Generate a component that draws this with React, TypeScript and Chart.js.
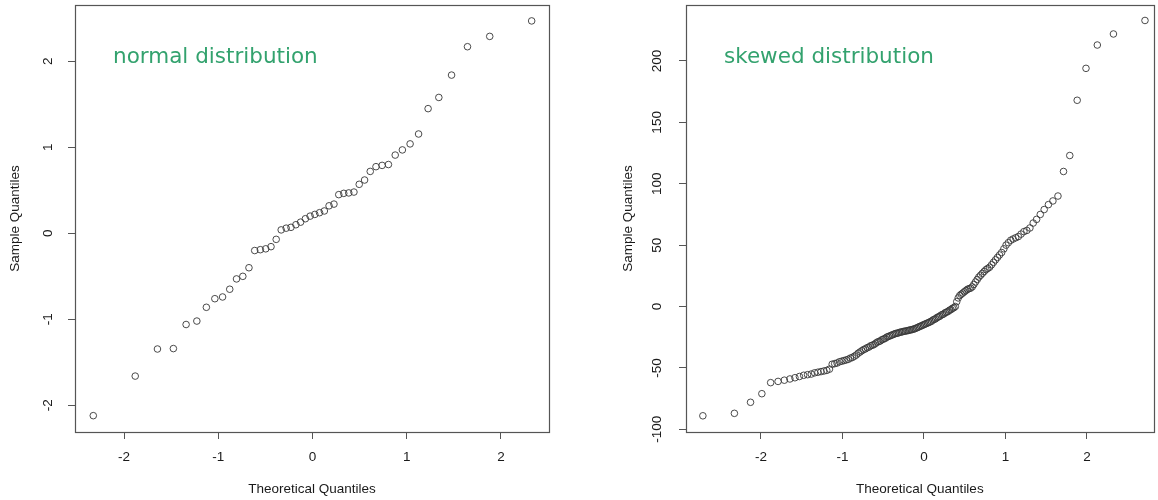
import React, { useEffect, useRef } from "react";
import { Chart, registerables } from "chart.js";

Chart.register(...registerables);

// ---------- DATA ----------
const leftTitle = "normal distribution";
const rightTitle = "skewed distribution";
const xAxisTitle = "Theoretical Quantiles";
const yAxisTitle = "Sample Quantiles";

const leftTheoretical = [
  -2.326, -1.881, -1.645, -1.476, -1.341, -1.227, -1.126, -1.036, -0.954, -0.878,
  -0.806, -0.739, -0.674, -0.613, -0.553, -0.496, -0.44, -0.385, -0.332, -0.279,
  -0.228, -0.176, -0.126, -0.075, -0.025, 0.025, 0.075, 0.126, 0.176, 0.228,
  0.279, 0.332, 0.385, 0.44, 0.496, 0.553, 0.613, 0.674, 0.739, 0.806,
  0.878, 0.954, 1.036, 1.126, 1.227, 1.341, 1.476, 1.645, 1.881, 2.326,
];
const leftSample = [
  -2.12, -1.66, -1.345, -1.34, -1.06, -1.02, -0.86, -0.76, -0.74, -0.65,
  -0.53, -0.5, -0.4, -0.2, -0.19, -0.18, -0.155, -0.07, 0.04, 0.06,
  0.07, 0.1, 0.13, 0.17, 0.2, 0.22, 0.24, 0.26, 0.32, 0.34,
  0.45, 0.465, 0.47, 0.48, 0.57, 0.62, 0.72, 0.775, 0.79, 0.8,
  0.91, 0.97, 1.04, 1.155, 1.45, 1.58, 1.84, 2.17, 2.29, 2.47,
];

const rightTheoretical = [
  -2.713, -2.326, -2.128, -1.989, -1.881, -1.79, -1.713, -1.645, -1.583, -1.528,
  -1.476, -1.428, -1.383, -1.341, -1.301, -1.263, -1.227, -1.192, -1.159, -1.126,
  -1.095, -1.066, -1.036, -1.008, -0.981, -0.954, -0.928, -0.903, -0.878, -0.854,
  -0.83, -0.806, -0.783, -0.761, -0.739, -0.717, -0.696, -0.674, -0.654, -0.633,
  -0.613, -0.593, -0.573, -0.553, -0.534, -0.515, -0.496, -0.477, -0.458, -0.44,
  -0.421, -0.403, -0.385, -0.367, -0.349, -0.332, -0.314, -0.297, -0.279, -0.262,
  -0.245, -0.228, -0.21, -0.193, -0.176, -0.16, -0.143, -0.126, -0.109, -0.092,
  -0.075, -0.059, -0.042, -0.025, -0.008,
  0.008, 0.025, 0.042, 0.059, 0.075, 0.092, 0.109, 0.126, 0.143, 0.16,
  0.176, 0.193, 0.21, 0.228, 0.245, 0.262, 0.279, 0.297, 0.314, 0.332,
  0.349, 0.367, 0.385, 0.403, 0.421, 0.44, 0.458, 0.477, 0.496, 0.515,
  0.534, 0.553, 0.573, 0.593, 0.613, 0.633, 0.654, 0.674, 0.696, 0.717,
  0.739, 0.761, 0.783, 0.806, 0.83, 0.854, 0.878, 0.903, 0.928, 0.954,
  0.981, 1.008, 1.036, 1.066, 1.095, 1.126, 1.159, 1.192, 1.227, 1.263,
  1.301, 1.341, 1.383, 1.428, 1.476, 1.528, 1.583, 1.645, 1.713, 1.79,
  1.881, 1.989, 2.128, 2.326, 2.713,
];
const rightSample = [
  -89, -87, -78, -71, -62, -61, -60, -59, -58, -57,
  -56, -55.5, -55, -54, -53.5, -53, -52.5, -52, -51, -47,
  -46.5, -46, -45, -44.5, -44, -43.5, -43, -42, -41.5, -40.5,
  -39.5, -38, -37, -36, -35, -34.5, -33.5, -33, -32, -31.5,
  -31, -30, -29, -28.5, -28, -27, -26.5, -26, -25, -24.5,
  -24, -23.5, -23, -22.5, -22, -21.8, -21.5, -21, -20.8, -20.5,
  -20.2, -20, -19.8, -19.5, -19.2, -19, -18.7, -18.4, -18, -17.5,
  -17, -16.5, -16, -15.5, -15,
  -14.5, -14, -13.5, -13, -12.5, -12, -11, -10.5, -10, -9,
  -8.5, -8, -7, -6.5, -6, -5, -4.5, -4, -3, -2.5,
  -1.5, -1, 0, 4, 7, 9, 10, 11, 12, 13,
  14, 14.5, 15, 16, 18, 20, 22, 24, 25.5, 27,
  28.5, 30, 31, 32, 34, 36, 38, 40, 42, 44,
  47, 50, 52, 54, 55, 56, 57, 59, 61, 62,
  64, 68, 71, 75, 79, 83, 86, 90, 110, 123,
  168, 194, 213, 222, 233,
];

const leftXTicks = [-2, -1, 0, 1, 2];
const leftYTicks = [-2, -1, 0, 1, 2];
const rightXTicks = [-2, -1, 0, 1, 2];
const rightYTicks = [-100, -50, 0, 50, 100, 150, 200];

// ---------- CHART ----------
const FONT = "'Liberation Sans', Arial, sans-serif";
const INK = "#1a1a1a";
const BOX = "#555";

type PanelCfg = {
  xs: number[];
  ys: number[];
  xTicks: number[];
  yTicks: number[];
  xRange: [number, number];
  yRange: [number, number];
  label: string;
  yWidth: number;
  padRight: number;
  yTickPad: number;
  yTitlePad: number;
};

function zeroPad(s: any) {
  s.paddingTop = 0;
  s.paddingBottom = 0;
  s.paddingLeft = 0;
  s.paddingRight = 0;
}

function makeConfig(c: PanelCfg): any {
  const points = c.xs.map((x, i) => ({ x, y: c.ys[i] }));
  const boxPlugin = {
    id: "rbox",
    afterDraw(chart: any) {
      const { ctx, chartArea } = chart;
      ctx.save();
      ctx.strokeStyle = BOX;
      ctx.lineWidth = 1.2;
      ctx.strokeRect(
        Math.round(chartArea.left) + 0.5,
        Math.round(chartArea.top) + 0.5,
        Math.round(chartArea.right - chartArea.left),
        Math.round(chartArea.bottom - chartArea.top)
      );
      ctx.font = "21.5px 'DejaVu Sans', sans-serif";
      ctx.fillStyle = "#33a26e";
      ctx.textBaseline = "middle";
      ctx.textAlign = "left";
      ctx.fillText(c.label, chartArea.left + 38, 57);
      ctx.restore();
    },
  };
  return {
    type: "scatter",
    data: {
      datasets: [
        {
          data: points,
          pointStyle: "circle",
          pointRadius: 3.3,
          pointHoverRadius: 3.3,
          pointBorderWidth: 1,
          borderColor: "rgba(55,55,55,0.9)",
          backgroundColor: "rgba(0,0,0,0)",
          showLine: false,
        },
      ],
    },
    options: {
      responsive: false,
      animation: false,
      events: [],
      layout: { padding: { left: 0, right: c.padRight, top: 5, bottom: 0 } },
      plugins: { legend: { display: false }, tooltip: { enabled: false } },
      scales: {
        x: {
          type: "linear",
          min: c.xRange[0],
          max: c.xRange[1],
          afterBuildTicks: (s: any) => {
            s.ticks = c.xTicks.map((v) => ({ value: v }));
          },
          afterFit: (s: any) => {
            s.height = 68;
            zeroPad(s);
          },
          border: { display: false },
          grid: {
            drawOnChartArea: false,
            drawTicks: true,
            tickLength: 7,
            color: BOX,
            lineWidth: 1,
          },
          ticks: {
            padding: 10,
            color: INK,
            font: { family: FONT, size: 13.5 },
            maxRotation: 0,
            autoSkip: false,
          },
          title: {
            display: true,
            text: xAxisTitle,
            color: INK,
            font: { family: FONT, size: 13.5 },
            padding: { top: 0, bottom: 3 },
          },
        },
        y: {
          type: "linear",
          min: c.yRange[0],
          max: c.yRange[1],
          afterBuildTicks: (s: any) => {
            s.ticks = c.yTicks.map((v) => ({ value: v }));
          },
          afterFit: (s: any) => {
            s.width = c.yWidth;
            zeroPad(s);
          },
          border: { display: false },
          grid: {
            drawOnChartArea: false,
            drawTicks: true,
            tickLength: 7,
            color: BOX,
            lineWidth: 1,
          },
          ticks: {
            padding: c.yTickPad,
            color: INK,
            font: { family: FONT, size: 13.5 },
            minRotation: 90,
            maxRotation: 90,
            crossAlign: "center",
            autoSkip: false,
          },
          title: {
            display: true,
            text: yAxisTitle,
            color: INK,
            font: { family: FONT, size: 13.5 },
            padding: { top: c.yTitlePad, bottom: 0 },
          },
        },
      },
    },
    plugins: [boxPlugin],
  };
}

function Panel(props: { cfg: PanelCfg; left: number; width: number }) {
  const ref = useRef<HTMLCanvasElement | null>(null);
  useEffect(() => {
    if (!ref.current) return;
    const chart = new Chart(ref.current, makeConfig(props.cfg));
    return () => chart.destroy();
  }, []);
  return (
    <canvas
      ref={ref}
      width={props.width}
      height={500}
      style={{ position: "absolute", left: props.left, top: 0, width: props.width, height: 500 }}
    />
  );
}

export default function App() {
  const leftCfg: PanelCfg = {
    xs: leftTheoretical,
    ys: leftSample,
    xTicks: leftXTicks,
    yTicks: leftYTicks,
    xRange: [-2.52, 2.51],
    yRange: [-2.31, 2.655],
    label: leftTitle,
    yWidth: 75,
    padRight: 31,
    yTickPad: 14,
    yTitlePad: 7,
  };
  const rightCfg: PanelCfg = {
    xs: rightTheoretical,
    ys: rightSample,
    xTicks: rightXTicks,
    yTicks: rightYTicks,
    xRange: [-2.92, 2.82],
    yRange: [-102.2, 245.6],
    label: rightTitle,
    yWidth: 106,
    padRight: 2,
    yTickPad: 8,
    yTitlePad: 40,
  };
  return (
    <div style={{ position: "absolute", left: 0, top: 0, width: 1158, height: 500, background: "#fff" }}>
      <Panel cfg={leftCfg} left={0} width={580} />
      <Panel cfg={rightCfg} left={580} width={578} />
    </div>
  );
}
